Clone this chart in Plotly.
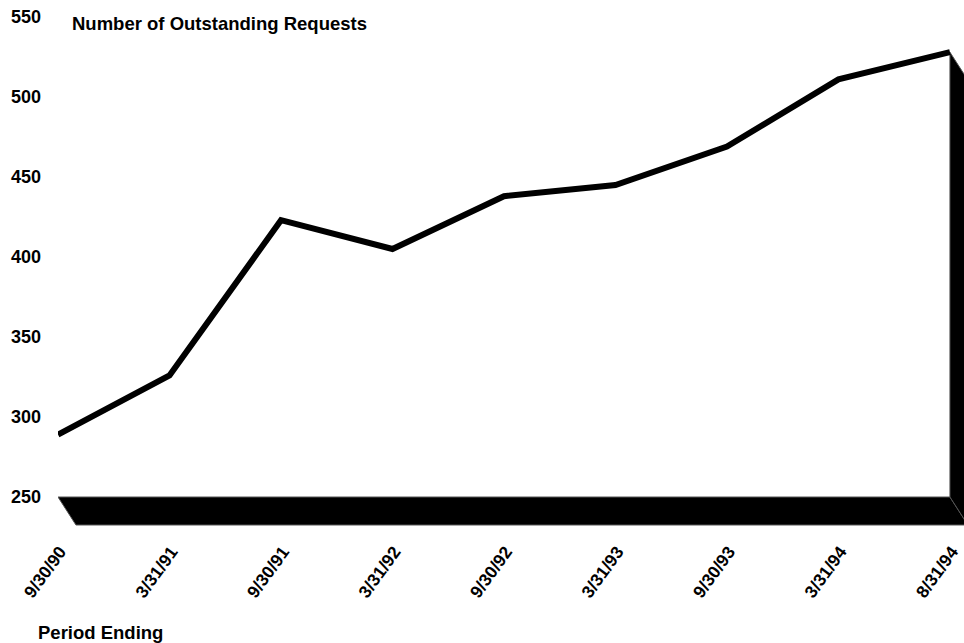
import plotly.graph_objects as go

periods = ["9/30/90", "3/31/91", "9/30/91", "3/31/92", "9/30/92",
           "3/31/93", "9/30/93", "3/31/94", "8/31/94"]
requests = [289, 326, 423, 405, 438, 445, 469, 511, 528]
y_ticks = [250, 300, 350, 400, 450, 500, 550]

FONT = "Liberation Sans, Arial, sans-serif"
base = 250
depth_x = 0.161   # category units
depth_y = 17.5    # value units
last = len(periods) - 1

fig = go.Figure()
fig.add_trace(go.Scatter(
    x=periods, y=requests, mode="lines",
    line=dict(color="black", width=6),
    hoverinfo="skip", showlegend=False,
))

# 3D floor
fig.add_shape(
    type="path", xref="x", yref="y", layer="below",
    path=(f"M 0,{base} L {last},{base} L {last + depth_x},{base - depth_y} "
          f"L {depth_x},{base - depth_y} Z"),
    fillcolor="black", line=dict(color="#555555", width=1),
)
# 3D right wall
fig.add_shape(
    type="path", xref="x", yref="y", layer="below",
    path=(f"M {last},{base} L {last},{requests[-1]} "
          f"L {last + depth_x},{requests[-1] - depth_y} "
          f"L {last + depth_x},{base - depth_y} Z"),
    fillcolor="black", line=dict(color="#555555", width=1),
)

fig.update_layout(
    width=964, height=643,
    margin=dict(l=58, r=0, t=17, b=116),
    plot_bgcolor="white", paper_bgcolor="white",
    font=dict(family=FONT, color="black", size=18),
    showlegend=False,
    xaxis=dict(
        type="category", range=[0, 8.126],
        tickangle=-54, tickfont=dict(family=FONT, size=17.5, weight="bold"),
        showgrid=False, zeroline=False, showline=False, ticks="",
        ticklabelstandoff=10, ticklabelshift=2,
    ),
    yaxis=dict(
        range=[231.25, 550], tickvals=y_ticks,
        tickfont=dict(family=FONT, size=18, weight="bold"),
        showgrid=False, zeroline=False, showline=False, ticks="",
        ticklabelstandoff=16,
    ),
    annotations=[
        dict(text="<b>Number of Outstanding Requests</b>", xref="paper", yref="paper",
             x=(70 - 58) / 906, y=1.0, xanchor="left", yanchor="middle",
             yshift=-6, showarrow=False, font=dict(family=FONT, size=18.5)),
        dict(text="<b>Period Ending</b>", xref="paper", yref="paper",
             x=(36 - 58) / 906, y=0, xanchor="left", yanchor="middle",
             yshift=-(632 - 527), showarrow=False, font=dict(family=FONT, size=18.5)),
    ],
)

fig.write_html("out.html")
